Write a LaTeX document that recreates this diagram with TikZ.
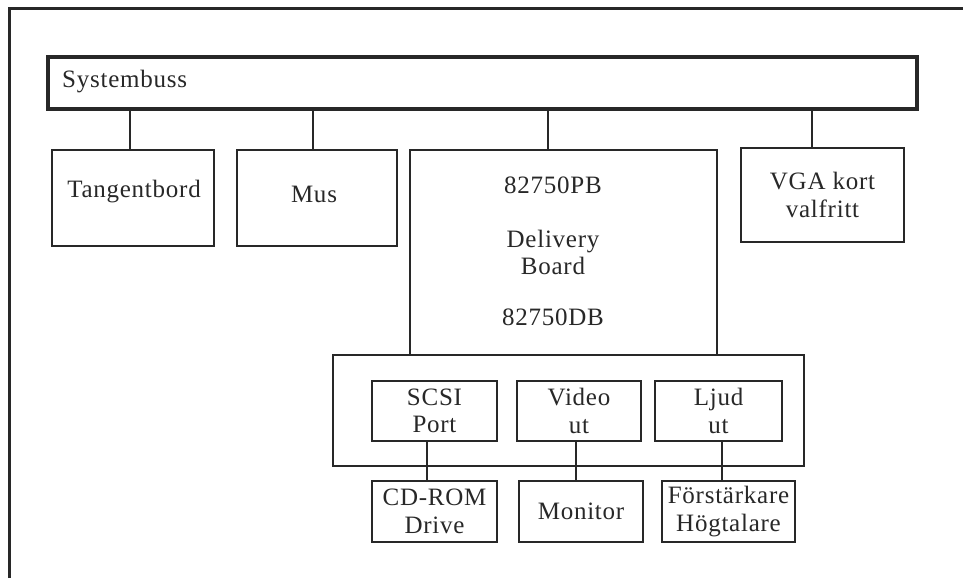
\documentclass[tikz,border=0pt]{standalone}
\usepackage{fontspec}
\setmainfont{Liberation Serif}[LetterSpace=3]
\definecolor{ink}{RGB}{40,40,40}
\begin{document}
\begin{tikzpicture}[x=1pt,y=-1pt,
  txt/.style={font=\fontsize{25}{27.5}\selectfont, text=ink},
  box/.style={draw=ink, line width=1.8pt, inner sep=0pt, align=center, txt},
  lbl/.style={inner sep=0pt, anchor=base, txt},
  wire/.style={draw=ink, line width=1.8pt}]
\useasboundingbox (0,0) rectangle (963,578);
\fill[white] (0,0) rectangle (963,578);
% outer frame (only top and left edges visible)
\draw[ink, line width=3pt] (9,578) -- (9,9) -- (963,9);

% system bus
\node[box, line width=3.2pt, minimum width=869pt, minimum height=52pt] (bus) at (482.5,83) {};
\node[lbl, anchor=base west] (buslbl) at (62,88) {Systembuss};

% upper row
\node[box, minimum width=162pt, minimum height=96pt] (tang) at (133,198) {};
\node[lbl] (tanglbl) at (134,197) {Tangentbord};
\node[box, minimum width=160pt, minimum height=96pt] (mus) at (317,198) {};
\node[lbl] (muslbl) at (314,202) {Mus};
\node[box, minimum width=307pt, minimum height=205pt] (deliv) at (563.5,252.5) {};
\node[lbl] (d1) at (553,193) {82750PB};
\node[lbl] (d2) at (553,247) {Delivery};
\node[lbl] (d3) at (553,274) {Board};
\node[lbl] (d4) at (553,325) {82750DB};
\node[box, minimum width=163pt, minimum height=94pt] (vga) at (822.5,195) {VGA kort\\valfritt};

% lower board
\node[box, minimum width=471pt, minimum height=111pt] (lower) at (568.5,410.5) {};
\node[box, minimum width=125pt, minimum height=60pt] (scsi) at (434.5,411) {SCSI\\Port};
\node[box, minimum width=124pt, minimum height=60pt] (video) at (579,411) {Video\\ut};
\node[box, minimum width=127pt, minimum height=60pt] (ljud) at (718.5,411) {Ljud\\ut};

% peripherals
\node[box, minimum width=125pt, minimum height=61pt] (cdrom) at (434.5,511.5) {CD-ROM\\Drive};
\node[box, minimum width=124pt, minimum height=61pt] (monitor) at (581,511.5) {Monitor};
\node[box, minimum width=133pt, minimum height=61pt] (forst) at (728.5,511.5) {Förstärkare\\Högtalare};

% connectors
\draw[wire] (bus.south -| 130,0) -- (tang.north -| 130,0);
\draw[wire] (bus.south -| 313,0) -- (mus.north -| 313,0);
\draw[wire] (bus.south -| 548,0) -- (deliv.north -| 548,0);
\draw[wire] (bus.south -| 812,0) -- (vga.north -| 812,0);
\draw[wire] (scsi.south -| 427,0) -- (cdrom.north -| 427,0);
\draw[wire] (video.south -| 576,0) -- (monitor.north -| 576,0);
\draw[wire] (ljud.south -| 722,0) -- (forst.north -| 722,0);
\end{tikzpicture}
\end{document}
